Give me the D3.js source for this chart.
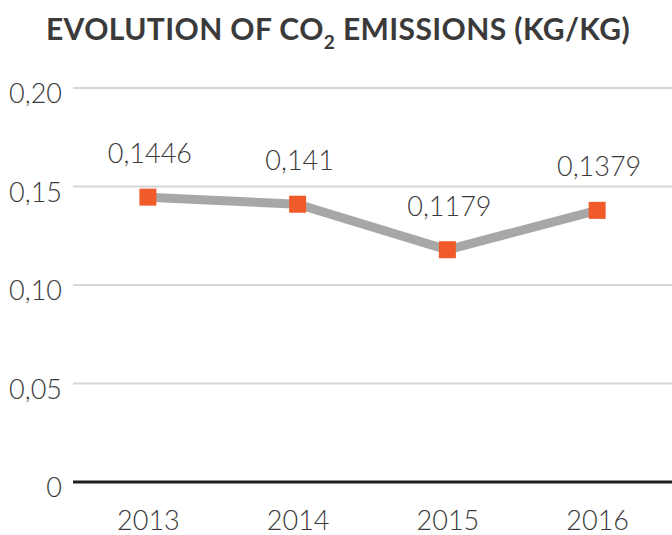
<!DOCTYPE html>
<html><head><meta charset="utf-8">
<script src="https://cdn.jsdelivr.net/npm/d3@7/dist/d3.min.js"></script>
<style>
html,body{margin:0;padding:0;background:#fff;}
svg{display:block;}
</style></head>
<body>
<svg id="chart" width="672" height="535"></svg>
<script>
const years = ["2013", "2014", "2015", "2016"];
const emissions = [0.1446, 0.141, 0.1179, 0.1379];
const valueLabels = ["0,1446", "0,141", "0,1179", "0,1379"];
const yTicks = [0, 0.05, 0.10, 0.15, 0.20];
const yTickLabels = ["0", "0,05", "0,10", "0,15", "0,20"];

(function () {
const svg = d3.select("#chart");
const mLeft = 73, mRight = 672, mTop = 88, mBottom = 482;
const font = "Lato, 'Open Sans', sans-serif";

const x = d3.scalePoint().domain(years).range([mLeft, mRight]).padding(0.5);
const y = d3.scaleLinear().domain([0, 0.2]).range([mBottom, mTop]);

// title
const title = svg.append("text")
  .attr("x", 338).attr("y", 40)
  .attr("text-anchor", "middle")
  .attr("font-family", font).attr("font-weight", 700)
  .attr("font-size", 30).attr("letter-spacing", 0.4).attr("fill", "#3b3a3a");
title.append("tspan").text("EVOLUTION OF CO");
title.append("tspan").attr("font-size", 19).attr("dy", 9).text("2");
title.append("tspan").attr("dy", -9).text(" EMISSIONS (KG/KG)");

// y tick labels
const yAxis = d3.axisLeft(y).tickValues(yTicks)
  .tickFormat((d, i) => yTickLabels[i]).tickSize(0).tickPadding(0);
const yg = svg.append("g").attr("transform", `translate(${mLeft},0)`).call(yAxis);
yg.select(".domain").remove();
yg.selectAll(".tick line").remove();
yg.selectAll(".tick text")
  .attr("x", -11).attr("dy", "0.55em")
  .attr("font-family", font).attr("font-weight", 300)
  .attr("font-size", 27).attr("fill", "#3a3a3a");

// gridlines
svg.append("g").selectAll("line").data(yTicks.filter(d => d > 0)).join("line")
  .attr("x1", mLeft).attr("x2", mRight)
  .attr("y1", d => y(d)).attr("y2", d => y(d))
  .attr("stroke", "#d6d6d6").attr("stroke-width", 2);

svg.append("line")
  .attr("x1", mLeft).attr("x2", mRight)
  .attr("y1", y(0)).attr("y2", y(0))
  .attr("stroke", "#231f20").attr("stroke-width", 3);

// x axis labels
const xAxis = d3.axisBottom(x).tickSize(0).tickPadding(0);
const xg = svg.append("g").attr("transform", `translate(0,${mBottom})`).call(xAxis);
xg.select(".domain").remove();
xg.selectAll(".tick text")
  .attr("y", 48).attr("dy", 0)
  .attr("font-family", font).attr("font-weight", 300)
  .attr("font-size", 27).attr("fill", "#3a3a3a");

// line
const line = d3.line().x((d, i) => x(years[i])).y(d => y(d));
svg.append("path").datum(emissions)
  .attr("d", line).attr("fill", "none")
  .attr("stroke", "#a7a7a7").attr("stroke-width", 9);

// markers
svg.append("g").selectAll("rect").data(emissions).join("rect")
  .attr("x", (d, i) => x(years[i]) - 8.5).attr("y", d => y(d) - 8.5)
  .attr("width", 17).attr("height", 17).attr("fill", "#f15a29");

// value labels
svg.append("g").selectAll("text").data(emissions).join("text")
  .attr("x", (d, i) => x(years[i]) + 2).attr("y", d => y(d) - 34)
  .attr("text-anchor", "middle")
  .attr("font-family", font).attr("font-weight", 300)
  .attr("font-size", 27).attr("fill", "#3a3a3a")
  .text((d, i) => valueLabels[i]);
})();
</script>
</body></html>
